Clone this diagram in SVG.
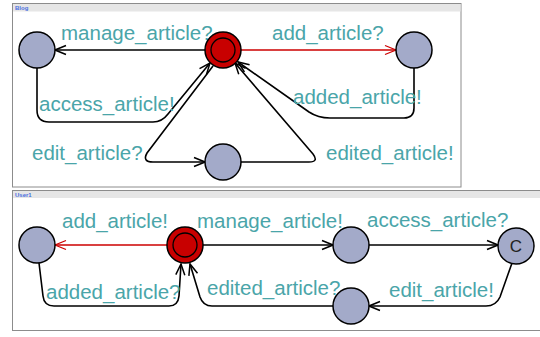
<svg xmlns="http://www.w3.org/2000/svg" width="540" height="337" viewBox="0 0 540 337">
  <style>
    .frame { fill: #ffffff; stroke: #8c8c8c; stroke-width: 1; }
    .bar { fill: #e6e6e6; }
    .title { font-family: "Liberation Sans", Arial, sans-serif; font-size: 6px; font-weight: bold; fill: #4a6fe0; }
    .loc { fill: #a3aac9; stroke: #000000; stroke-width: 1.5; }
    .init { fill: #c80000; stroke: #000000; stroke-width: 1.5; }
    .inner { fill: none; stroke: #000000; stroke-width: 1.3; }
    .edge { fill: none; stroke: #000000; stroke-width: 1.6; marker-end: url(#arrow); }
    .edge.red { stroke: #cc0000; stroke-width: 1.3; marker-end: url(#arrowRed); }
    .lbl { font-family: "Liberation Sans", Arial, sans-serif; font-size: 20.5px; fill: #4aa5a9; }
    .mark { font-family: "Liberation Sans", Arial, sans-serif; font-size: 17px; fill: #222222; }
  </style>
  <defs>
    <marker id="arrow" viewBox="-12 -6 13 12" refX="0" refY="0" markerWidth="13" markerHeight="12" markerUnits="userSpaceOnUse" orient="auto">
      <path d="M-11,-4.5 L0,0 L-11,4.5" fill="none" stroke="#000000" stroke-width="1.5"/>
    </marker>
    <marker id="arrowRed" viewBox="-12 -6 13 12" refX="0" refY="0" markerWidth="13" markerHeight="12" markerUnits="userSpaceOnUse" orient="auto">
      <path d="M-11,-4.5 L0,0 L-11,4.5" fill="none" stroke="#cc0000" stroke-width="1.3"/>
    </marker>
  </defs>

  <!-- Blog template -->
  <g id="panel-blog">
    <rect class="frame" x="12.5" y="3.5" width="448.5" height="183.5"/>
    <rect class="bar" x="13" y="4" width="447.5" height="7.5"/>
    <text class="title" x="15" y="10">Blog</text>
  </g>

  <!-- User1 template -->
  <g id="panel-user1">
    <rect class="frame" x="12.5" y="190.5" width="540" height="140"/>
    <rect class="bar" x="13" y="191" width="540" height="7"/>
    <text class="title" x="15" y="197">User1</text>
  </g>

  <g id="connectors">
    <!-- Blog -->
    <path class="edge" d="M205,50 H55"/>
    <path class="edge red" d="M241,50 H396"/>
    <path class="edge" d="M414,68 V108 Q414,118 404,118 H330 Q318,118 309,112 L238,62"/>
    <path class="edge" d="M241,162 H309 Q319,162 313,154 L235,63"/>
    <path class="edge" d="M37,68 V110 Q37,122 49,122 H153 Q162,122 168,114 L210,63"/>
    <path class="edge" d="M213,66 L147,153 Q142,162 153,162 H205"/>
    <!-- User1 -->
    <path class="edge red" d="M167,245 H55"/>
    <path class="edge" d="M39,263 L43,296 Q44,306 54,306 H169 Q178,306 179,296 L181,264"/>
    <path class="edge" d="M333,306 H212 Q203,306 200,297 L190,264"/>
    <path class="edge" d="M203,245 H333"/>
    <path class="edge" d="M369,245 H498"/>
    <path class="edge" d="M512,263 L500,297 Q496,306 486,306 H369"/>
  </g>

  <g id="blog-labels">
    <text class="lbl" x="61" y="40">manage_article?</text>
    <text class="lbl" x="272" y="40">add_article?</text>
    <text class="lbl" x="293" y="104">added_article!</text>
    <text class="lbl" x="326" y="160">edited_article!</text>
    <text class="lbl" x="39" y="111">access_article!</text>
    <text class="lbl" x="32" y="160">edit_article?</text>
  </g>

  <g id="user1-labels">
    <text class="lbl" x="62" y="228">add_article!</text>
    <text class="lbl" x="197" y="228">manage_article!</text>
    <text class="lbl" x="367" y="227">access_article?</text>
    <text class="lbl" x="46" y="299">added_article?</text>
    <text class="lbl" x="207" y="295">edited_article?</text>
    <text class="lbl" x="389" y="297">edit_article!</text>
  </g>

  <!-- Blog locations -->
  <g id="blog-init">
    <circle class="init" cx="223" cy="50" r="18"/>
    <circle class="inner" cx="223" cy="50" r="12"/>
  </g>
  <g id="blog-managed">
    <circle class="loc" cx="37" cy="50" r="18"/>
  </g>
  <g id="blog-adding">
    <circle class="loc" cx="414" cy="50" r="18"/>
  </g>
  <g id="blog-editing">
    <circle class="loc" cx="223" cy="162" r="18"/>
  </g>

  <!-- User1 locations -->
  <g id="user-init">
    <circle class="init" cx="185" cy="245" r="18"/>
    <circle class="inner" cx="185" cy="245" r="12"/>
  </g>
  <g id="user-adding">
    <circle class="loc" cx="37" cy="245" r="18"/>
  </g>
  <g id="user-managing">
    <circle class="loc" cx="351" cy="245" r="18"/>
  </g>
  <g id="user-committed">
    <circle class="loc" cx="516" cy="246" r="18"/>
    <text class="mark" x="516" y="252" text-anchor="middle">C</text>
  </g>
  <g id="user-editing">
    <circle class="loc" cx="351" cy="306" r="18"/>
  </g>
</svg>
